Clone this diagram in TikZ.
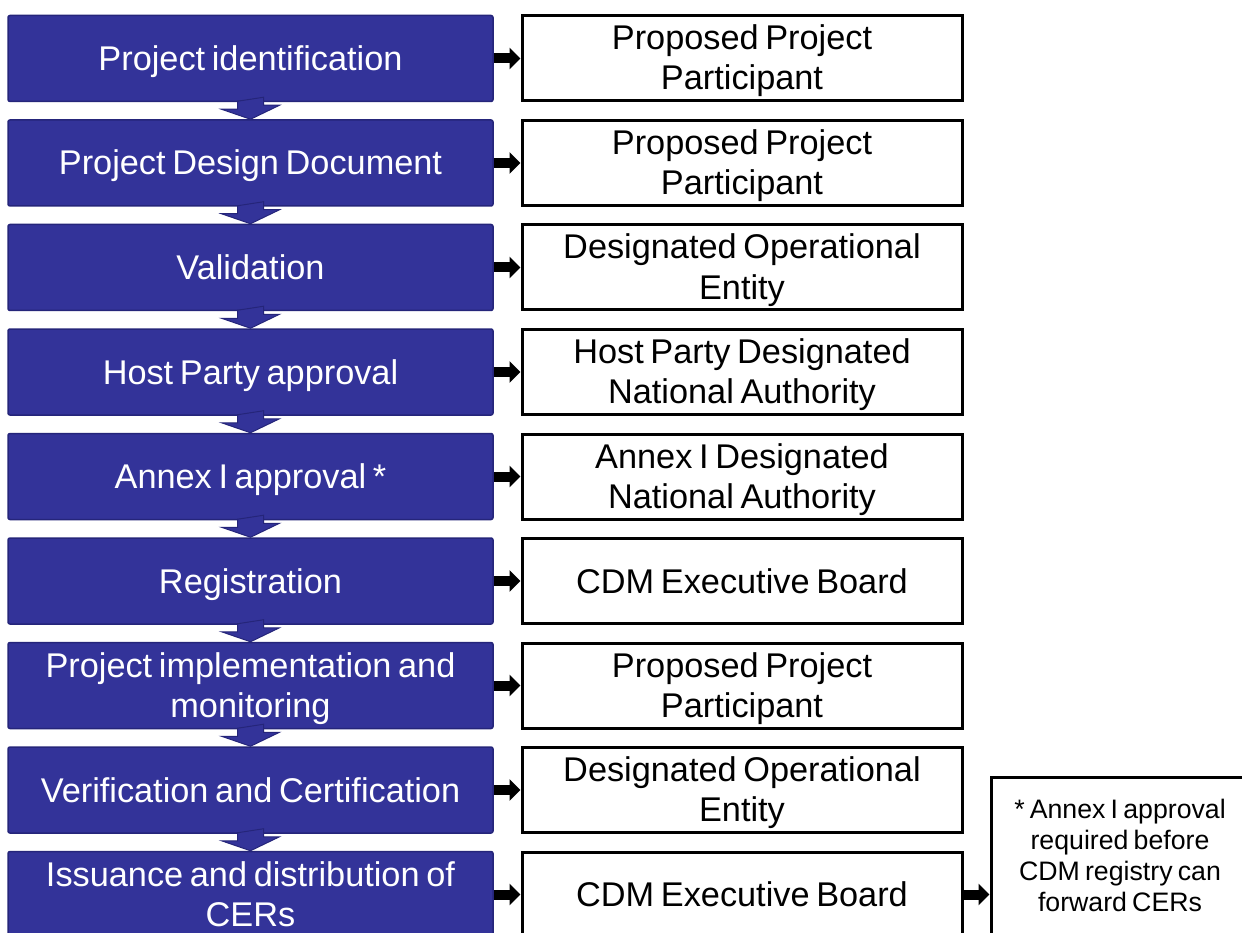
\documentclass[tikz,border=0pt]{standalone}
\usepackage{fontspec}
\setmainfont{Liberation Sans}[WordSpace=0.7]
\usetikzlibrary{arrows.meta}
\definecolor{stepblue}{HTML}{333399}
\definecolor{stepedge}{HTML}{25257A}
\newcommand\twoln[2]{\begin{tabular}[t]{@{}c@{}}#1\\#2\end{tabular}}
\newcommand\fourln[4]{\begin{tabular}[t]{@{}c@{}}#1\\#2\\#3\\#4\end{tabular}}
\tikzset{
  stepbox/.style={draw=stepedge, line width=1.5pt, fill=stepblue, rounded corners=2pt,
    minimum width=485pt, minimum height=86pt, inner sep=0pt,
    text=white, font=\fontsize{34.3}{40}\selectfont},
  actorbox/.style={draw=black, line width=3pt, fill=white,
    minimum width=440pt, minimum height=85pt, inner sep=0pt,
    font=\fontsize{34.3}{40}\selectfont},
  notebox/.style={draw=black, line width=3pt, fill=white,
    minimum width=258pt, minimum height=158pt, inner sep=0pt,
    text height=19pt, text depth=95pt,
    font=\fontsize{26.7}{31}\selectfont},
  oneline/.style={text height=24pt, text depth=0pt},
  twoline/.style={text height=24pt, text depth=41pt},
  rarr/.style={draw=black, line width=10pt, -{Triangle[length=11pt,width=21pt]}},
  darr/.style={draw=stepedge, line width=1pt, fill=stepblue, line join=miter},
}
\begin{document}
\begin{tikzpicture}[x=1pt,y=-1pt]
\clip (0,0) rectangle (1242,933);
\fill[white] (0,0) rectangle (1242,933);

\node[stepbox,oneline] (b1) at (250.5,58.5) {Project identification};
\node[stepbox,oneline] (b2) at (250.5,163) {Project Design Document};
\node[stepbox,oneline] (b3) at (250.5,267.5) {Validation};
\node[stepbox,oneline] (b4) at (250.5,372) {Host Party approval};
\node[stepbox,oneline] (b5) at (250.5,476.5) {Annex I approval *};
\node[stepbox,oneline] (b6) at (250.5,581) {Registration};
\node[stepbox,twoline] (b7) at (250.5,685.5) {\twoln{Project implementation and}{monitoring}};
\node[stepbox,oneline] (b8) at (250.5,790) {Verification and Certification};
\node[stepbox,twoline] (b9) at (250.5,894.5) {\twoln{Issuance and distribution of}{CERs}};

\node[actorbox,twoline] (w1) at (742,58.5) {\twoln{Proposed Project}{Participant}};
\node[actorbox,twoline] (w2) at (742,163) {\twoln{Proposed Project}{Participant}};
\node[actorbox,twoline] (w3) at (742,267.5) {\twoln{Designated Operational}{Entity}};
\node[actorbox,twoline] (w4) at (742,372) {\twoln{Host Party Designated}{National Authority}};
\node[actorbox,twoline] (w5) at (742,476.5) {\twoln{Annex I Designated}{National Authority}};
\node[actorbox,oneline] (w6) at (742,581) {CDM Executive Board};
\node[actorbox,twoline] (w7) at (742,685.5) {\twoln{Proposed Project}{Participant}};
\node[actorbox,twoline] (w8) at (742,790) {\twoln{Designated Operational}{Entity}};
\node[actorbox,oneline] (w9) at (742,894.5) {CDM Executive Board};

\node[notebox] (n) at (1120,856) {\fourln{* Annex I approval}{required before}{CDM registry can}{forward CERs}};

\foreach \a/\b in {1/2,2/3,3/4,4/5,5/6,6/7,7/8,8/9}{
  \filldraw[darr] (b\a.south) ++(-13,-1) -- ++(0,8) -- ++(-16,0) -- (b\b.north)
     -- ++(29,-14) -- ++(-16,0) -- ++(0,-8) -- cycle;
}
\foreach \i in {1,...,9}{
  \draw[rarr] (b\i.east) -- (w\i.west);
}
\draw[rarr] (w9.east) -- (w9.east -| n.west);
\end{tikzpicture}
\end{document}
